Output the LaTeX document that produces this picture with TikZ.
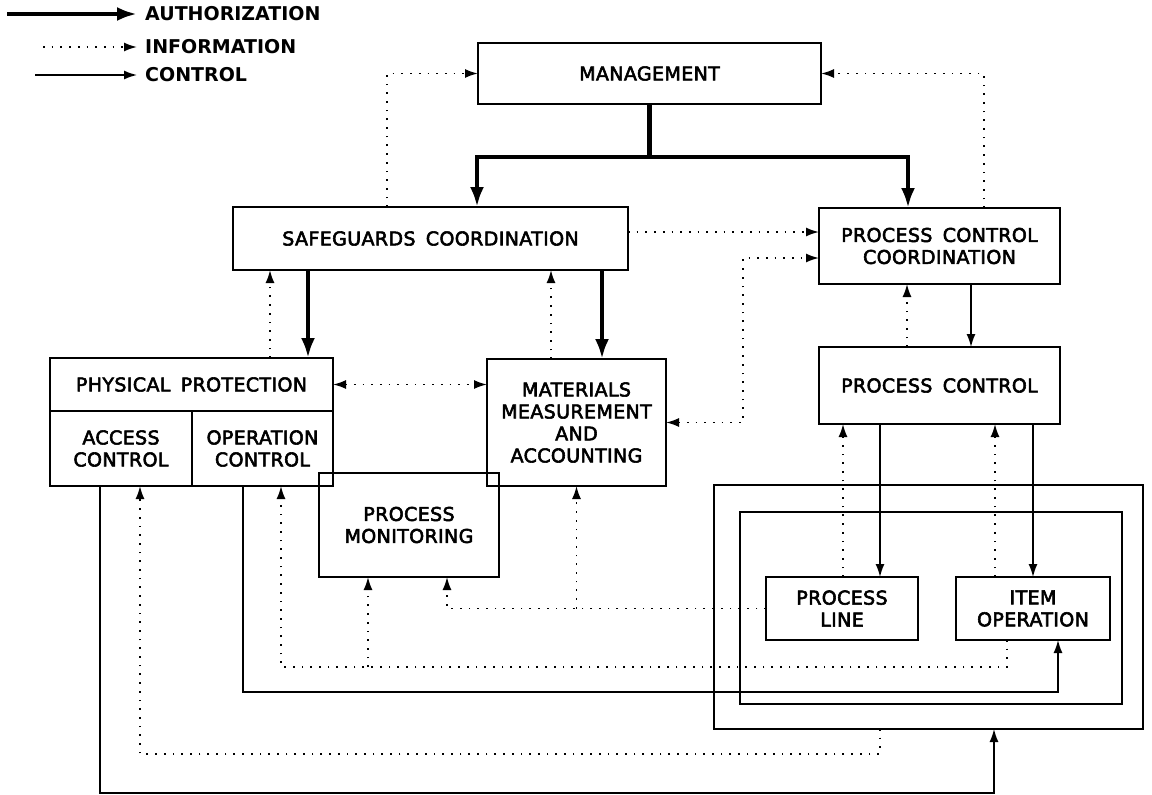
\documentclass[tikz,border=0pt]{standalone}
\usepackage{fontspec}
\setmainfont{DejaVu Sans}[FakeBold=3, LetterSpace=2, WordSpace=1.6]
\newfontfamily\legendfont{DejaVu Sans Bold}
\usepackage{tikz}
\usetikzlibrary{arrows.meta,calc}

\begin{document}
\begin{tikzpicture}[x=1pt,y=-1pt,
  block/.style={draw, line width=1.6pt, align=center, inner sep=0pt, outer sep=0pt, font=\fontsize{19}{22}\selectfont},
  legend/.style={anchor=west, inner sep=0pt, font=\fontsize{19}{22}\selectfont\legendfont},
  authline/.style={line width=4.5pt, -{Latex[length=20pt,width=14pt]}},
  infoline/.style={line width=1.7pt, dash pattern=on 1.7pt off 7pt, -{Latex[length=13pt,width=9pt]}},
  infoboth/.style={infoline, {Latex[length=13pt,width=9pt]}-{Latex[length=13pt,width=9pt]}},
  ctrlline/.style={line width=1.5pt, -{Latex[length=13pt,width=9pt]}}]
  \useasboundingbox (0,0) rectangle (1152,795);

  % Legend
  \node[legend] (lauth) at (145,14) {AUTHORIZATION};
  \node[legend] (linfo) at (145,47) {INFORMATION};
  \node[legend] (lctrl) at (145,75) {CONTROL};
  \coordinate (sauth) at (7,14);
  \coordinate (sinfo) at (43,47);
  \coordinate (sctrl) at (35,75);
  \draw [authline] (sauth) -- ([xshift=-8pt]lauth.west);
  \draw [infoline] (sinfo) -- ([xshift=-8pt]linfo.west);
  \draw [ctrlline] (sctrl) -- ([xshift=-8pt]lctrl.west);

  % Blocks
  \node[block, minimum width=343pt, minimum height=61pt] (mgmt) at (649.5,73.5) {MANAGEMENT};
  \node[block, minimum width=395pt, minimum height=63pt] (sc) at (430.5,238.5) {SAFEGUARDS COORDINATION};
  \node[block, minimum width=241pt, minimum height=76pt] (pcc) at (939.5,246) {PROCESS CONTROL\\COORDINATION};
  \node[block, minimum width=283pt, minimum height=53pt] (pp) at (191.5,384.5) {PHYSICAL PROTECTION};
  \node[block, minimum width=142pt, minimum height=75pt] (ac) at (121,448.5) {ACCESS\\CONTROL};
  \node[block, minimum width=141pt, minimum height=75pt] (oc) at (262.5,448.5) {OPERATION\\CONTROL};
  \node[block, minimum width=179pt, minimum height=127pt] (mma) at (576.5,422.5) {MATERIALS\\MEASUREMENT\\AND\\ACCOUNTING};
  \node[block, minimum width=180pt, minimum height=104pt] (pm) at (409,525) {PROCESS\\MONITORING};
  \node[block, minimum width=241pt, minimum height=77pt] (pc) at (939.5,385.5) {PROCESS CONTROL};
  \node[block, line width=1.4pt, minimum width=429pt, minimum height=244pt] (outer) at (928.5,607) {};
  \node[block, line width=1.4pt, minimum width=382pt, minimum height=192pt] (inner) at (931,608) {};
  \node[block, minimum width=152pt, minimum height=63pt] (pl) at (842,608.5) {PROCESS\\LINE};
  \node[block, minimum width=154pt, minimum height=63pt] (io) at (1033,608.5) {ITEM\\OPERATION};

  % Authorization
  \coordinate (fork) at (649.5,157);
  \draw [authline] (mgmt.south) -- (fork) -| ($(sc.north)+(46.5,0)$);
  \draw [authline] (fork) -| ($(pcc.north)+(-31.5,0)$);
  \draw [authline] ($(sc.south)+(-122.5,0)$) -- ($(pp.north)+(116.5,0)$);
  \draw [authline] ($(sc.south)+(171.5,0)$) -- ($(mma.north)+(25.5,0)$);

  % Information
  \draw [infoline] ($(sc.north)+(-43.5,0)$) |- (mgmt.west);
  \draw [infoline] ($(pcc.north)+(44.5,0)$) |- (mgmt.east);
  \draw [infoline] ($(sc.east)+(0,-6.5)$) -- ($(pcc.west)+(0,-14)$);
  \draw [infoline] ($(pp.north)+(78.5,0)$) -- ($(sc.south)+(-160.5,0)$);
  \draw [infoline] ($(mma.north)+(-25.5,0)$) -- ($(sc.south)+(120.5,0)$);
  \draw [infoboth] (pp.east) -- (pp.east -| mma.west);
  \draw [infoboth] (mma.east) -- ++(77,0) |- ($(pcc.west)+(0,12)$);
  \draw [infoline] ($(pc.north)+(-32.5,0)$) -- ($(pcc.south)+(-32.5,0)$);
  \draw [infoline] ($(pl.north)+(1,0)$) -- ($(pc.south)+(-96.5,0)$);
  \draw [infoline] ($(io.north)+(-38,0)$) -- ($(pc.south)+(55.5,0)$);
  \draw [infoline] (pl.west) -| ($(pm.south)+(38,0)$);
  \draw [infoline] (pl.west -| mma.south) -- (mma.south);
  \draw [infoline] ($(io.south)+(-26,0)$) -- ++(0,27) -| ($(oc.south)+(18.5,0)$);
  \draw [infoline] ($(pm.south)+(-41,90)$) -- ($(pm.south)+(-41,0)$);
  \draw [infoline] ($(outer.south)+(-48.5,0)$) -- ++(0,25) -| ($(ac.south)+(19,0)$);

  % Control
  \draw [ctrlline] ($(pcc.south)+(31.5,0)$) -- ($(pc.north)+(31.5,0)$);
  \draw [ctrlline] ($(pc.south)+(-59.5,0)$) -- ($(pl.north)+(38,0)$);
  \draw [ctrlline] ($(pc.south)+(93.5,0)$) -- (io.north);
  \draw [ctrlline] ($(oc.south)+(-19.5,0)$) -- ++(0,206) -| ($(io.south)+(25,0)$);
  \draw [ctrlline] ($(ac.south)+(-21,0)$) -- ++(0,307) -| ($(outer.south)+(65.5,0)$);
\end{tikzpicture}
\end{document}
